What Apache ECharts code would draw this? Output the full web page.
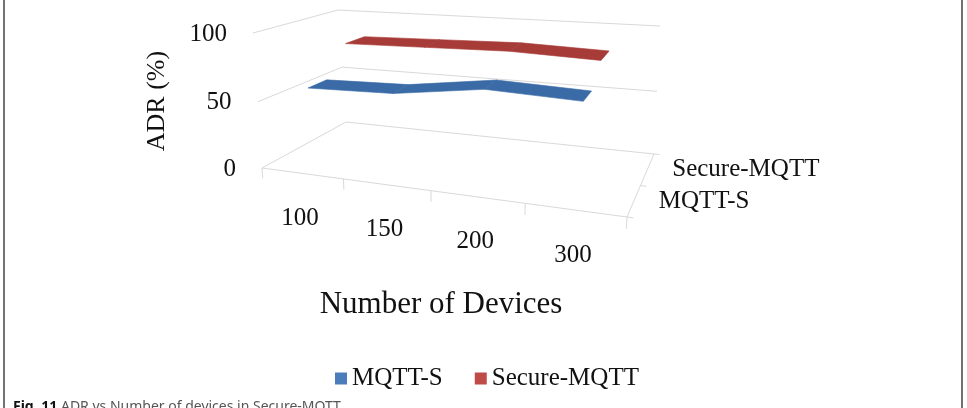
<!DOCTYPE html>
<html>
<head>
<meta charset="utf-8">
<script src="https://cdn.jsdelivr.net/npm/echarts@6/dist/echarts.min.js"></script>
<style>
html,body{margin:0;padding:0;background:#fff;}
#main{width:967px;height:408px;}
</style>
</head>
<body>
<div id="main"></div>
<script>
// ---------------- data ----------------
const categories = ['100', '150', '200', '300'];          // Number of Devices
const seriesNames = ['MQTT-S', 'Secure-MQTT'];             // depth rows (front -> back)
const mqttS = [60, 62, 71, 69];                            // ADR (%)
const secureMqtt = [82, 83.5, 85, 83];                     // ADR (%)
const valueTicks = [0, 50, 100];
const xTitle = 'Number of Devices';
const yTitle = 'ADR (%)';
const caption = 'ADR vs Number of devices in Secure-MQTT';

// ---------------- 3D box layout (perspective frame) ----------------
const FL0 = [262, 168], FR0 = [627, 217], BL0 = [346, 122], BR0 = [654, 154];
const FL1 = [253, 33],  FR1 = [635, 63],  BL1 = [338, 10],  BR1 = [660, 26];
const persU = -0.138, persV = -0.04;
function sProj(t, c) { return t * (1 + c) / (1 + c * t); }
function lerp(a, b, t) { return [a[0] + (b[0] - a[0]) * t, a[1] + (b[1] - a[1]) * t]; }
function P(u, w, v) {
  const s = sProj(u, persU), sv = sProj(v, persV);
  const f0 = lerp(FL0, FR0, s), b0 = lerp(BL0, BR0, s);
  const f1 = lerp(FL1, FR1, s), b1 = lerp(BL1, BR1, s);
  return lerp(lerp(f0, b0, w), lerp(f1, b1, w), sv);
}
function toUV(cs, pt) {
  return [(pt[0] - cs.x) / cs.width, (cs.y + cs.height - pt[1]) / cs.height];
}

const gridColor = '#d9d9d9';
const serif = '"Liberation Serif", "Times New Roman", serif';
const labelFont = '25px ' + serif;
const textColor = '#111';

function segLine(p, q) {
  return { type: 'line', shape: { x1: p[0], y1: p[1], x2: q[0], y2: q[1] },
           style: { stroke: gridColor, lineWidth: 1 } };
}

// value gridlines + labels
function renderValueGrid(params, api) {
  const cs = params.coordSys;
  const val = api.value(1);
  const v = toUV(cs, api.coord([0, val]))[1];
  const children = [];
  if (v < 1e-6) {
    children.push({ type: 'polygon', shape: { points: [P(0,0,0), P(1,0,0), P(1,1,0), P(0,1,0)] },
      style: { fill: 'none', stroke: gridColor, lineWidth: 1 } });
  } else {
    children.push({ type: 'polyline', shape: { points: [P(0,0,v), P(0,1,v), P(1,1,v)] },
      style: { fill: 'none', stroke: gridColor, lineWidth: 1 } });
  }
  const a = P(0, 0, v);
  children.push({ type: 'text', x: a[0] - 26, y: a[1] + 1,
    style: { text: String(val), font: labelFont, fill: textColor, align: 'right', verticalAlign: 'middle' } });
  return { type: 'group', children };
}

// category ticks + labels
function renderCategoryAxis(params, api) {
  const cs = params.coordSys;
  const i = api.value(0);
  const uc = toUV(cs, api.coord([i, 0]))[0];
  const half = api.size([1, 0])[0] / cs.width / 2;
  const children = [];
  const ticks = [uc - half];
  if (i === categories.length - 1) ticks.push(uc + half);
  ticks.forEach(u => children.push(segLine(P(u, 0, 0), P(u, 0, -0.08))));
  const c = P(uc, 0, 0);
  children.push({ type: 'text', x: c[0] - 2, y: c[1] + 45,
    style: { text: categories[i], font: labelFont, fill: textColor, align: 'center', verticalAlign: 'middle' } });
  return { type: 'group', children };
}

// depth (series) axis ticks + labels
function renderDepthAxis(params, api) {
  const k = params.dataIndex;
  const n = seriesNames.length;
  const w = (k + 0.5) / n;
  const children = [];
  const ticks = [k / n];
  if (k === n - 1) ticks.push(1);
  ticks.forEach(t => children.push(segLine(P(1, t, 0), P(1.015, t, 0))));
  const c = P(1, w, 0);
  children.push({ type: 'text', x: c[0] + 25, y: c[1],
    style: { text: seriesNames[k], font: labelFont, fill: textColor, align: 'left', verticalAlign: 'middle' } });
  return { type: 'group', children };
}

// 3D ribbon line
function ribbon(depth, color) {
  return function (params, api) {
    const cs = params.coordSys;
    const i = api.value(0);
    const a = toUV(cs, api.coord([i, api.value(1)]));
    const b = toUV(cs, api.coord([i + 1, api.value(2)]));
    const w0 = depth - 0.12, w1 = depth + 0.12;
    const pts = [P(a[0], w0, a[1]), P(b[0], w0, b[1]), P(b[0], w1, b[1]), P(a[0], w1, a[1])];
    return { type: 'polygon', shape: { points: pts },
      style: { fill: color, stroke: color, lineWidth: 0.6 } };
  };
}
function segData(arr) {
  const out = [];
  for (let i = 0; i < arr.length - 1; i++) out.push([i, arr[i], arr[i + 1]]);
  return out;
}

const chart = echarts.init(document.getElementById('main'));
chart.setOption({
  backgroundColor: '#fff',
  animation: false,
  grid: { left: 262, right: 340, top: 33, bottom: 240 },
  xAxis: { type: 'category', data: categories, show: false },
  yAxis: { type: 'value', min: 0, max: 100, interval: 50, show: false },
  legend: {
    data: [
      { name: seriesNames[0], itemStyle: { color: '#4A7EBB' } },
      { name: seriesNames[1], itemStyle: { color: '#BE4B48' } }
    ],
    icon: 'rect', itemWidth: 12, itemHeight: 12, itemGap: 32,
    left: 330, top: 361,
    textStyle: { fontFamily: serif, fontSize: 25, color: textColor }
  },
  graphic: [
    { type: 'rect', shape: { x: 4, y: -8, width: 958, height: 430, r: 8 },
      style: { fill: 'none', stroke: '#444', lineWidth: 1.5 }, silent: true },
    { type: 'text', x: 157, y: 101, rotation: Math.PI / 2,
      style: { text: yTitle, font: '26px ' + serif, fill: textColor, align: 'center', verticalAlign: 'middle' } },
    { type: 'text', x: 441, y: 305,
      style: { text: xTitle, font: '31px ' + serif, fill: textColor, align: 'center', verticalAlign: 'middle' } },
    { type: 'text', x: 13, y: 400,
      style: { text: '{b|Fig. 11} ' + caption, fill: '#555', font: '14px "Noto Sans", "Open Sans", sans-serif',
        verticalAlign: 'top',
        rich: { b: { fontWeight: 'bold', fill: '#111', fontSize: 14, fontFamily: '"Noto Sans", "Open Sans", sans-serif' } } } }
  ],
  series: [
    { name: 'valueGrid', type: 'custom', renderItem: renderValueGrid, silent: true,
      data: valueTicks.map(t => [0, t]), z: 1 },
    { name: 'categoryAxis', type: 'custom', renderItem: renderCategoryAxis, silent: true,
      data: categories.map((c, i) => [i, 0]), z: 1 },
    { name: 'depthAxis', type: 'custom', renderItem: renderDepthAxis, silent: true,
      data: seriesNames.map((s, k) => [0, k]), z: 1 },
    { name: seriesNames[1], type: 'custom', renderItem: ribbon(0.75, '#A63B37'),
      itemStyle: { color: '#BE4B48' }, data: segData(secureMqtt), z: 2 },
    { name: seriesNames[0], type: 'custom', renderItem: ribbon(0.25, '#3B6BA6'),
      itemStyle: { color: '#4A7EBB' }, data: segData(mqttS), z: 3 }
  ]
});
</script>
</body>
</html>
